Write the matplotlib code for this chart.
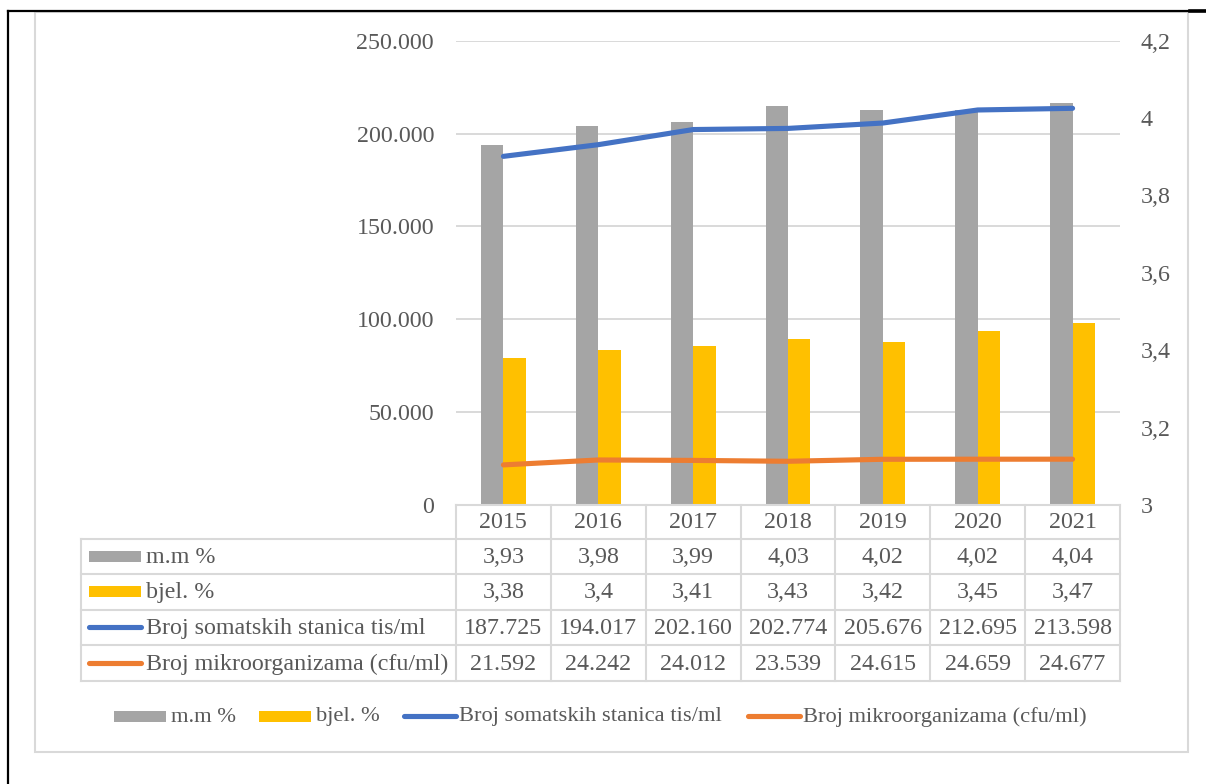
import matplotlib
matplotlib.use('Agg')
import matplotlib.pyplot as plt
from matplotlib.patches import Rectangle
from matplotlib.lines import Line2D
import numpy as np

# ---------------- data ----------------
years = ['2015', '2016', '2017', '2018', '2019', '2020', '2021']
mm = [3.93, 3.98, 3.99, 4.03, 4.02, 4.02, 4.04]
bjel = [3.38, 3.40, 3.41, 3.43, 3.42, 3.45, 3.47]
somatske = [187725, 194017, 202160, 202774, 205676, 212695, 213598]
mikro = [21592, 24242, 24012, 23539, 24615, 24659, 24677]
series_names = ['m.m %', 'bjel. %', 'Broj somatskih stanica tis/ml',
                'Broj mikroorganizama (cfu/ml)']
left_ticks = [0, 50000, 100000, 150000, 200000, 250000]
right_ticks = [3.0, 3.2, 3.4, 3.6, 3.8, 4.0, 4.2]

# ---------------- style ----------------
C_GRAY = '#A5A5A5'
C_YEL = '#FFC000'
C_BLUE = '#4472C4'
C_ORNG = '#ED7D31'
C_TXT = '#595959'
C_GRID = '#D9D9D9'
FONT = 'Liberation Serif'
FS = 17.3
FS_LEG = 16.2
plt.rcParams['font.family'] = [FONT, 'DejaVu Serif']

W, H = 1206, 784
fig = plt.figure(figsize=(W / 100, H / 100), dpi=100)
fig.patch.set_facecolor('white')


def fx(px):
    return px / W


def fy(py):
    return 1 - py / H


PL, PR, PT, PB = 456, 1120, 40.7, 505
ax = fig.add_axes([fx(PL), fy(PB), fx(PR) - fx(PL), fy(PT) - fy(PB)])
n = len(years)
x = np.arange(n)

# grid + left axis (line scale)
ax.set_xlim(-0.5, n - 0.5)
ax.set_ylim(0, 250000)
ax.set_yticks(left_ticks)
ax.set_yticklabels([f"{v:,}".replace(',', '.') for v in left_ticks],
                   fontsize=FS, color=C_TXT)
ax.tick_params(axis='y', length=0, pad=15.8)
ax.set_xticks([])
ax.grid(axis='y', color=C_GRID, linewidth=1.4)
ax.set_axisbelow(True)
for s in ax.spines.values():
    s.set_visible(False)

# bars (secondary scale)
axb = ax.twinx()
axb.set_ylim(3.0, 4.2)
bw = 0.237
axb.bar(x - bw / 2, mm, width=bw, color=C_GRAY, zorder=2)
axb.bar(x + bw / 2, bjel, width=bw, color=C_YEL, zorder=2)
axb.set_yticks(right_ticks)
axb.set_yticklabels([f"{round(v, 1):g}".replace('.', ',') for v in right_ticks],
                    fontsize=FS, color=C_TXT)
axb.tick_params(axis='y', length=0, pad=15)
axb.set_xticks([])
for s in axb.spines.values():
    s.set_visible(False)

# lines (primary scale)
axl = ax.twinx()
axl.set_ylim(0, 250000)
axl.set_yticks([])
axl.set_xticks([])
axl.plot(x, somatske, color=C_BLUE, lw=3.7, solid_capstyle='round',
         solid_joinstyle='round', zorder=3)
axl.plot(x, mikro, color=C_ORNG, lw=3.7, solid_capstyle='round',
         solid_joinstyle='round', zorder=3)
for s in axl.spines.values():
    s.set_visible(False)
axl.set_xlim(-0.5, n - 0.5)
axb.set_xlim(-0.5, n - 0.5)

# ---------------- overlay: table, legend, borders ----------------
ov = fig.add_axes([0, 0, 1, 1], zorder=10)
ov.set_xlim(0, W)
ov.set_ylim(H, 0)
ov.axis('off')
ov.patch.set_alpha(0)

# outer black frame (top and left)
ov.add_line(Line2D([8, W], [11, 11], color='black', lw=1.6))
ov.add_line(Line2D([8, 8], [11, H], color='black', lw=1.6))
ov.add_line(Line2D([1190, W], [11, 11], color='black', lw=2.6))
# chart area border
ov.add_patch(Rectangle((35, 12), 1188 - 35, 752 - 12, fill=False,
                       edgecolor=C_GRID, lw=1.5))

# data table
TL = 81
colw = (PR - PL) / n
row_edges = [PB, 538.5, 574, 609.5, 645, 681]
lw_t = 1.5
ov.add_line(Line2D([PL, PR], [PB, PB], color=C_GRID, lw=lw_t))
for ye in row_edges[1:]:
    ov.add_line(Line2D([TL, PR], [ye, ye], color=C_GRID, lw=lw_t))
ov.add_line(Line2D([TL, TL], [row_edges[1], row_edges[-1]], color=C_GRID, lw=lw_t))
for k in range(n + 1):
    xx = PL + k * colw
    ov.add_line(Line2D([xx, xx], [PB, row_edges[-1]], color=C_GRID, lw=lw_t))


def ymid(i):
    return (row_edges[i] + row_edges[i + 1]) / 2


for k, yv in enumerate(years):
    ov.text(PL + (k + 0.5) * colw, ymid(0) + 1, yv, ha='center', va='center',
            fontsize=FS, color=C_TXT)

rows = [
    [f"{v:g}".replace('.', ',') for v in mm],
    [f"{v:g}".replace('.', ',') for v in bjel],
    [f"{v:,}".replace(',', '.') for v in somatske],
    [f"{v:,}".replace(',', '.') for v in mikro],
]
for r, vals in enumerate(rows):
    yc = ymid(r + 1)
    for k, t in enumerate(vals):
        ov.text(PL + (k + 0.5) * colw, yc + 1, t, ha='center', va='center',
                fontsize=FS, color=C_TXT)

key_colors = [C_GRAY, C_YEL, C_BLUE, C_ORNG]
key_kind = ['bar', 'bar', 'line', 'line']
for r in range(4):
    yc = ymid(r + 1)
    if key_kind[r] == 'bar':
        ov.add_patch(Rectangle((89, yc - 5.5), 52, 11, color=key_colors[r], lw=0))
    else:
        ov.add_line(Line2D([89, 141], [yc, yc], color=key_colors[r], lw=3.7,
                           solid_capstyle='round'))
    ov.text(146, yc + 1, series_names[r], ha='left', va='center',
            fontsize=FS, color=C_TXT)

# bottom legend
LY = 716
leg_x = [114, 259, 402, 746]
for i in range(4):
    x0 = leg_x[i]
    if key_kind[i] == 'bar':
        ov.add_patch(Rectangle((x0, LY - 5.5), 52, 11, color=key_colors[i], lw=0))
    else:
        ov.add_line(Line2D([x0 + 2, x0 + 54], [LY, LY], color=key_colors[i], lw=3.7,
                           solid_capstyle='round'))
    ov.text(x0 + 57, LY + 1, series_names[i], ha='left', va='center',
            fontsize=FS_LEG, color=C_TXT)

fig.savefig('out.png', dpi=100, facecolor='white')
